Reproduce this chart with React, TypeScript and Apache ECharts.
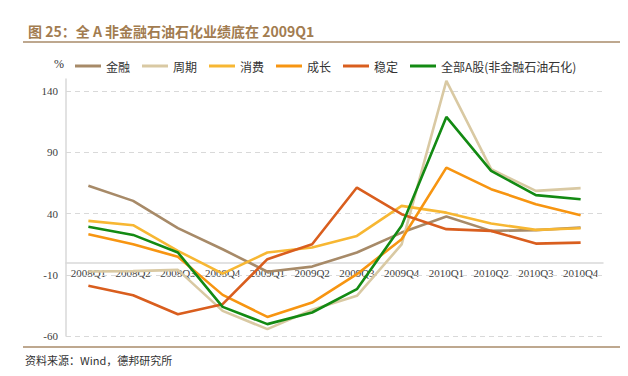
import React, { useEffect, useRef } from "react";
import * as echarts from "echarts";

const categories = ["2008Q1", "2008Q2", "2008Q3", "2008Q4", "2009Q1", "2009Q2", "2009Q3", "2009Q4", "2010Q1", "2010Q2", "2010Q3", "2010Q4"];
const jinrong = [62.7, 50.4, 28.1, 10.9, -7.5, -3.3, 8.2, 24.5, 37.6, 25.9, 26.5, 28.6];
const zhouqi = [-7.3, -7.0, -6.0, -39.5, -54.4, -38.5, -27.2, 14.8, 148.4, 76.3, 58.6, 60.8];
const xiaofei = [34.1, 30.5, 9.6, -9.0, 8.2, 12.3, 21.8, 46.3, 40.8, 31.9, 26.7, 28.1];
const chengzhang = [23.2, 15.0, 4.7, -26.4, -44.4, -32.7, -9.5, 19.1, 77.6, 60.0, 47.7, 38.7];
const wending = [-19.0, -26.7, -42.2, -34.0, 2.8, 15.0, 61.3, 39.5, 27.3, 25.9, 15.5, 16.3];
const quanA = [29.2, 22.6, 8.2, -36.2, -50.3, -40.8, -21.7, 30.0, 119.0, 74.9, 55.1, 51.8];
const yTicks = [-60, -10, 40, 90, 140];

const seriesDefs = [
  { name: "金融", data: jinrong, color: "#a78a68" },
  { name: "周期", data: zhouqi, color: "#d9c9a3" },
  { name: "消费", data: xiaofei, color: "#f7b733" },
  { name: "成长", data: chengzhang, color: "#f79511" },
  { name: "稳定", data: wending, color: "#d95e1e" },
  { name: "全部A股(非金融石油石化)", data: quanA, color: "#138a13" },
];

export default function App() {
  const ref = useRef<HTMLDivElement>(null);
  useEffect(() => {
    document.body.style.margin = "0";
    const chart = echarts.init(ref.current!, null, { renderer: "svg" });
    const serif = "'Liberation Serif', 'Times New Roman', serif";
    const series: any[] = seriesDefs.map((s, i) => ({
      name: s.name,
      type: "line",
      data: s.data,
      symbol: "none",
      lineStyle: { color: s.color, width: 2.6 },
      itemStyle: { color: s.color },
      z: 3 + i,
      ...(i === 0
        ? {
            markLine: {
              silent: true,
              symbol: ["none", "none"],
              label: { show: false },
              lineStyle: { color: "#d9d9d9", type: [5, 4], width: 1 },
              data: yTicks.map((v) => ({ yAxis: v })),
              z: 1,
            },
          }
        : {}),
    }));
    const gridBottom = 40;
    chart.setOption({
      animation: false,
      backgroundColor: "#fff",
      title: {
        text: "图 25：全 A 非金融石油石化业绩底在 2009Q1",
        left: 23,
        top: 19,
        textStyle: { color: "#a27c50", fontSize: 14, fontWeight: "bold", fontFamily: "'Noto Sans CJK SC', sans-serif" },
      },
      legend: {
        left: 70,
        top: 55,
        itemWidth: 26,
        itemHeight: 3,
        itemGap: 12,
        icon: "rect",
        textStyle: { color: "#333", fontSize: 12, fontFamily: "'Noto Sans CJK SC', serif" },
        data: seriesDefs.map((s) => s.name),
      },
      grid: { left: 66, right: 25, top: 79, bottom: gridBottom, containLabel: false },
      xAxis: {
        type: "category",
        data: categories,
        boundaryGap: true,
        position: "bottom",
        axisLine: { onZero: false, lineStyle: { color: "#d9d9d9", width: 1.5 } },
        axisTick: { show: false },
        axisLabel: {
          color: "#404040",
          fontSize: 11,
          fontFamily: serif,
          margin: 5,
          interval: 0,
          backgroundColor: "#fff",
        },
        splitLine: { show: false },
      },
      yAxis: {
        type: "value",
        min: -60,
        max: 150,
        interval: 50,
        axisLine: { show: true, lineStyle: { color: "#d9d9d9", width: 1.5 } },
        axisTick: { show: false },
        splitLine: { show: false },
        axisLabel: { color: "#404040", fontSize: 11, fontFamily: serif, margin: 8, showMaxLabel: false },
      },
      graphic: [
        { type: "text", left: 54, top: 58, style: { text: "%", fontSize: 12, fill: "#333", fontFamily: serif } },
        { type: "line", shape: { x1: 23, y1: 42, x2: 620, y2: 42 }, style: { stroke: "#a88b6a", lineWidth: 1.5 } },
        { type: "line", shape: { x1: 23, y1: 347, x2: 620, y2: 347 }, style: { stroke: "#a88b6a", lineWidth: 1.5 } },
        {
          type: "text",
          left: 25,
          top: 354,
          style: { text: "资料来源：Wind，德邦研究所", fontSize: 11, fill: "#333", fontFamily: "'Noto Sans CJK SC', sans-serif" },
        },
      ],
      series,
    });
    // move the category axis (line and labels) up to the zero line
    const zeroY = chart.convertToPixel({ yAxisIndex: 0 }, 0) as number;
    const bottomY = chart.convertToPixel({ yAxisIndex: 0 }, -60) as number;
    chart.setOption({ xAxis: { offset: -(bottomY - zeroY) } });
    return () => chart.dispose();
  }, []);
  return <div ref={ref} style={{ width: 628, height: 376 }} />;
}
